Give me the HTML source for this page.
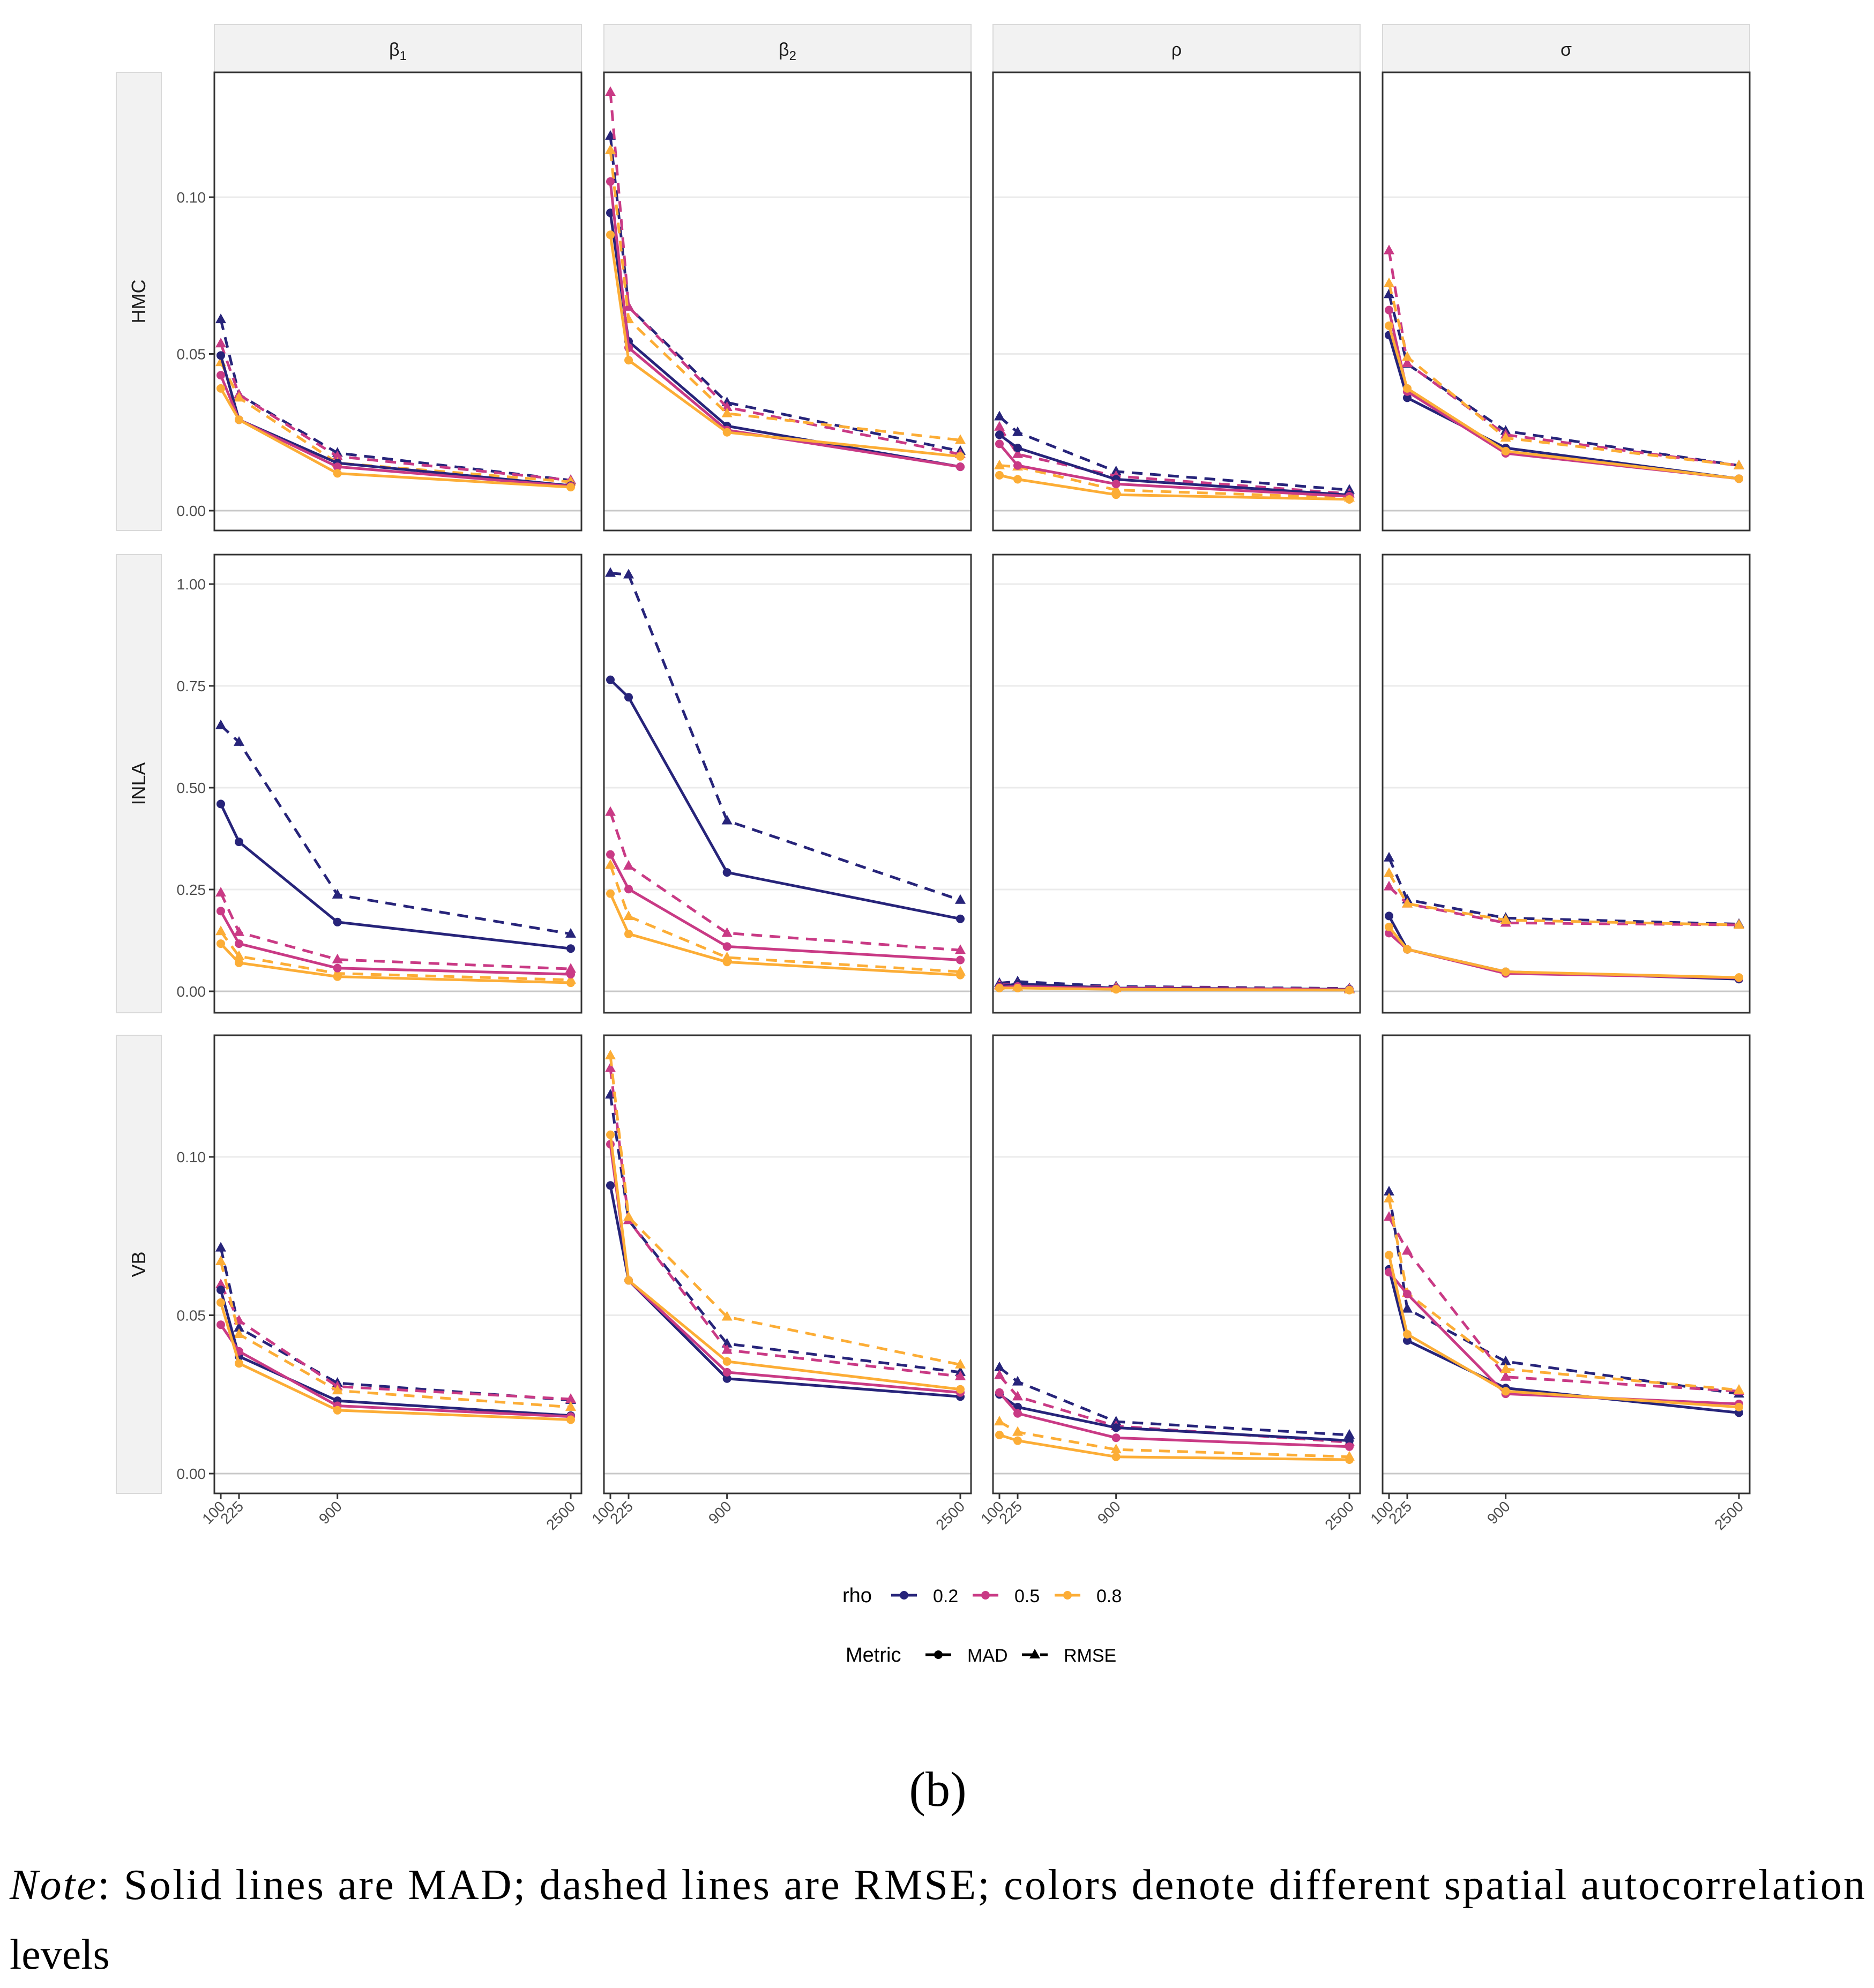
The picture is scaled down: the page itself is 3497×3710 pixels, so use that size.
<!DOCTYPE html>
<html><head><meta charset="utf-8"><style>
html,body{margin:0;padding:0;background:#fff;}
svg{display:block;}
</style></head><body>
<svg id="chart" xmlns="http://www.w3.org/2000/svg" width="3497" height="3710" viewBox="0 0 3497 3710" font-family="Liberation Sans, sans-serif">
<rect x="0" y="0" width="3497" height="3710" fill="#fff"/>
<g id="panels"></g>
<g id="legend">
  <text x="1572" y="2990" font-size="38" fill="#000">rho</text>
  <text x="1578" y="3101" font-size="38" fill="#000">Metric</text>
</g>
<text x="1750" y="3370" font-size="92" text-anchor="middle" font-family="Liberation Serif, serif">(b)</text>
<text x="18" y="3544" font-size="80" font-family="Liberation Serif, serif" textLength="3462" lengthAdjust="spacing"><tspan font-style="italic">Note</tspan>: Solid lines are MAD; dashed lines are RMSE; colors denote different spatial autocorrelation</text>
<text x="18" y="3674" font-size="80" font-family="Liberation Serif, serif">levels</text>
</svg>
<script>
// ---- data ----
const sizes = [100, 225, 900, 2500];
const xTickLabels = ["100", "225", "900", "2500"];
const rhoLevels = ["0.2", "0.5", "0.8"];
const methods = ["HMC", "INLA", "VB"];
const params = ["β1", "β2", "ρ", "σ"];
const hmcTicks = [0, 0.05, 0.10];
const hmcTickLabels = ["0.00", "0.05", "0.10"];
const inlaTicks = [0, 0.25, 0.5, 0.75, 1.0];
const inlaTickLabels = ["0.00", "0.25", "0.50", "0.75", "1.00"];
const vbTicks = [0, 0.05, 0.10];
const vbTickLabels = ["0.00", "0.05", "0.10"];

// [rho0.2, rho0.5, rho0.8]
const HMC_b1_MAD  = [[0.0495,0.029,0.0152,0.008],[0.0432,0.029,0.014,0.0078],[0.039,0.029,0.0119,0.0075]];
const HMC_b1_RMSE = [[0.061,0.037,0.0184,0.0097],[0.0533,0.037,0.0173,0.0097],[0.0473,0.036,0.0152,0.0092]];
const HMC_b2_MAD  = [[0.095,0.054,0.027,0.014],[0.105,0.052,0.0257,0.014],[0.088,0.048,0.025,0.0173]];
const HMC_b2_RMSE = [[0.1195,0.065,0.0345,0.019],[0.1335,0.065,0.033,0.018],[0.115,0.061,0.031,0.0225]];
const HMC_rho_MAD  = [[0.0242,0.020,0.010,0.005],[0.0213,0.0144,0.0085,0.0046],[0.0113,0.010,0.0051,0.0036]];
const HMC_rho_RMSE = [[0.030,0.025,0.0125,0.0066],[0.0267,0.018,0.011,0.0054],[0.0144,0.014,0.0066,0.0041]];
const HMC_sig_MAD  = [[0.056,0.036,0.020,0.0102],[0.064,0.038,0.0183,0.0102],[0.059,0.039,0.019,0.0102]];
const HMC_sig_RMSE = [[0.069,0.0468,0.0254,0.0144],[0.083,0.047,0.0242,0.0144],[0.0725,0.049,0.0232,0.0144]];
const INLA_b1_MAD  = [[0.46,0.367,0.17,0.105],[0.197,0.117,0.057,0.042],[0.117,0.07,0.036,0.021]];
const INLA_b1_RMSE = [[0.653,0.612,0.237,0.141],[0.242,0.145,0.078,0.055],[0.147,0.086,0.044,0.028]];
const INLA_b2_MAD  = [[0.765,0.722,0.292,0.178],[0.336,0.251,0.11,0.077],[0.24,0.141,0.072,0.04]];
const INLA_b2_RMSE = [[1.027,1.023,0.419,0.224],[0.44,0.308,0.143,0.101],[0.31,0.184,0.083,0.048]];
const INLA_rho_MAD  = [[0.012,0.018,0.008,0.005],[0.01,0.012,0.007,0.004],[0.008,0.008,0.005,0.003]];
const INLA_rho_RMSE = [[0.02,0.024,0.012,0.007],[0.016,0.016,0.01,0.006],[0.012,0.011,0.007,0.004]];
const INLA_sig_MAD  = [[0.185,0.103,0.048,0.03],[0.143,0.103,0.044,0.033],[0.158,0.103,0.048,0.034]];
const INLA_sig_RMSE = [[0.328,0.225,0.18,0.165],[0.257,0.215,0.168,0.163],[0.29,0.215,0.175,0.163]];
const VB_b1_MAD  = [[0.058,0.037,0.023,0.0183],[0.047,0.0386,0.0214,0.018],[0.054,0.0348,0.02,0.017]];
const VB_b1_RMSE = [[0.0713,0.046,0.0286,0.0232],[0.0597,0.0483,0.0275,0.0235],[0.067,0.044,0.0262,0.021]];
const VB_b2_MAD  = [[0.091,0.061,0.030,0.0243],[0.104,0.061,0.032,0.0256],[0.107,0.061,0.0354,0.0266]];
const VB_b2_RMSE = [[0.1196,0.080,0.041,0.032],[0.128,0.080,0.039,0.0307],[0.132,0.081,0.0495,0.0344]];
const VB_rho_MAD  = [[0.025,0.021,0.0145,0.0104],[0.0256,0.019,0.0113,0.0085],[0.0122,0.0104,0.0053,0.0044]];
const VB_rho_RMSE = [[0.0335,0.029,0.0164,0.0122],[0.031,0.0243,0.015,0.0099],[0.0164,0.0131,0.0076,0.0053]];
const VB_sig_MAD  = [[0.0645,0.042,0.027,0.0192],[0.0636,0.0567,0.0252,0.022],[0.069,0.044,0.026,0.021]];
const VB_sig_RMSE = [[0.089,0.052,0.0354,0.0252],[0.081,0.0703,0.0305,0.026],[0.0868,0.057,0.033,0.0264]];

const panelData = {
  HMC: [[HMC_b1_MAD,HMC_b1_RMSE],[HMC_b2_MAD,HMC_b2_RMSE],[HMC_rho_MAD,HMC_rho_RMSE],[HMC_sig_MAD,HMC_sig_RMSE]],
  INLA:[[INLA_b1_MAD,INLA_b1_RMSE],[INLA_b2_MAD,INLA_b2_RMSE],[INLA_rho_MAD,INLA_rho_RMSE],[INLA_sig_MAD,INLA_sig_RMSE]],
  VB:  [[VB_b1_MAD,VB_b1_RMSE],[VB_b2_MAD,VB_b2_RMSE],[VB_rho_MAD,VB_rho_RMSE],[VB_sig_MAD,VB_sig_RMSE]]
};

// ---- layout ----
const NS = "http://www.w3.org/2000/svg";
const colors = ["#27247a", "#c93a85", "#fcad36"];
const colLeft = [400, 1127, 1853, 2580];
const panelW = 685;
const rowTop = [135, 1035, 1932];
const panelH = 855;
// zero-line pixel and pixels-per-unit per row
const rowZero = [953, 1850, 2750];
const rowScale = [5850, 760, 5910];
const rowTicks = [hmcTicks, inlaTicks, vbTicks];
const rowTickLabels = [hmcTickLabels, inlaTickLabels, vbTickLabels];

function xPos(c, n) { return colLeft[c] + 12 + (n - 100) * (panelW - 32) / 2400; }
function yPos(r, v) { return rowZero[r] - v * rowScale[r]; }

function el(tag, attrs, parent) {
  const e = document.createElementNS(NS, tag);
  for (const k in attrs) e.setAttribute(k, attrs[k]);
  parent.appendChild(e);
  return e;
}

const root = document.getElementById("panels");

// strips (columns)
params.forEach((p, c) => {
  const g = el("g", {}, root);
  
  
  el("rect", {x: colLeft[c], y: 46, width: panelW, height: 89, fill: "#f2f2f2", stroke: "#d9d9d9", "stroke-width": 2}, g);
  const t = el("text", {x: colLeft[c] + panelW/2, y: 104, "font-size": 34, "text-anchor": "middle", fill: "#1a1a1a"}, g);
  
  
  t.textContent = p.charAt(0);
  if (p.length > 1) {
    const s = el("tspan", {"font-size": 24, dy: 8}, t);
    s.textContent = p.slice(1);
  }
});

// rows
methods.forEach((m, r) => {
  const sg = el("g", {}, root);
  
  
  el("rect", {x: 217, y: rowTop[r], width: 84, height: panelH, fill: "#f2f2f2", stroke: "#d9d9d9", "stroke-width": 2}, sg);
  const cy = rowTop[r] + panelH/2;
  const rt = el("text", {x: 0, y: 0, "font-size": 36, "text-anchor": "middle", fill: "#1a1a1a", transform: `translate(271 ${cy}) rotate(-90)`}, sg);
  
  
  rt.textContent = m;

  // y axis labels (left only)
  rowTicks[r].forEach((tv, i) => {
    const y = yPos(r, tv);
    el("line", {x1: 390, x2: 400, y1: y, y2: y, stroke: "#333", "stroke-width": 3}, root);
    const lt = el("text", {x: 384, y: y + 10, "font-size": 28, "text-anchor": "end", fill: "#4d4d4d"}, root);
    
    
    lt.textContent = rowTickLabels[r][i];
  });

  params.forEach((p, c) => {
    const g = el("g", {}, root);
    
    
    el("rect", {x: colLeft[c], y: rowTop[r], width: panelW, height: panelH, fill: "#fff"}, g);
    rowTicks[r].forEach((tv) => {
      const y = yPos(r, tv);
      el("line", {x1: colLeft[c], x2: colLeft[c] + panelW, y1: y, y2: y, stroke: tv === 0 ? "#c8c8c8" : "#ebebeb", "stroke-width": 3}, g);
    });
    const [mad, rmse] = panelData[m][c];
    // RMSE dashed
    [rmse, mad].forEach((series, k) => {
      series.forEach((vals, ci) => {
        const pts = vals.map((v, i) => xPos(c, sizes[i]).toFixed(1) + "," + yPos(r, v).toFixed(1)).join(" ");
        const line = el("polyline", {points: pts, fill: "none", stroke: colors[ci], "stroke-width": 5, "stroke-linejoin": "round"}, g);
        if (k === 0) line.setAttribute("stroke-dasharray", "20 14");
        
        
        vals.forEach((v, i) => {
          const x = xPos(c, sizes[i]), y = yPos(r, v);
          let mk;
          if (k === 0) {
            mk = el("polygon", {points: `${x},${y-11} ${x-10},${y+7} ${x+10},${y+7}`, fill: colors[ci]}, g);
            
          } else {
            mk = el("circle", {cx: x, cy: y, r: 8, fill: colors[ci]}, g);
            
          }
          
        });
      });
    });
    el("rect", {x: colLeft[c], y: rowTop[r], width: panelW, height: panelH, fill: "none", stroke: "#333", "stroke-width": 3}, g);

    if (r === 2) {
      sizes.forEach((n, i) => {
        const x = xPos(c, n);
        const by = rowTop[r] + panelH;
        el("line", {x1: x, x2: x, y1: by, y2: by + 10, stroke: "#333", "stroke-width": 3}, g);
        const xt = el("text", {x: 0, y: 0, "font-size": 28, "text-anchor": "end", fill: "#4d4d4d", transform: `translate(${x + 10} ${by + 26}) rotate(-45)`}, g);
        
        
        xt.textContent = xTickLabels[i];
      });
    }
  });
});

// legend
const leg = document.getElementById("legend");
const rhoKeyX = [1663, 1815, 1968];
rhoLevels.forEach((lv, i) => {
  const g = el("g", {}, leg);
  
  
  el("line", {x1: rhoKeyX[i], x2: rhoKeyX[i] + 48, y1: 2977, y2: 2977, stroke: colors[i], "stroke-width": 5}, g);
  el("circle", {cx: rhoKeyX[i] + 24, cy: 2977, r: 8, fill: colors[i]}, g);
  const t = el("text", {x: rhoKeyX[i] + 78, y: 2990, "font-size": 34, fill: "#000"}, g);
  t.textContent = lv;
});
const g1 = el("g", {}, leg);


el("line", {x1: 1727, x2: 1775, y1: 3088, y2: 3088, stroke: "#000", "stroke-width": 5}, g1);
el("circle", {cx: 1751, cy: 3088, r: 8, fill: "#000"}, g1);
el("text", {x: 1805, y: 3101, "font-size": 34, fill: "#000"}, g1).textContent = "MAD";
const g2 = el("g", {}, leg);


el("line", {x1: 1907, x2: 1955, y1: 3088, y2: 3088, stroke: "#000", "stroke-width": 5, "stroke-dasharray": "20 14"}, g2);
el("polygon", {points: "1931,3077 1921,3095 1941,3095", fill: "#000"}, g2);
el("text", {x: 1985, y: 3101, "font-size": 34, fill: "#000"}, g2).textContent = "RMSE";
</script>
</body></html>
